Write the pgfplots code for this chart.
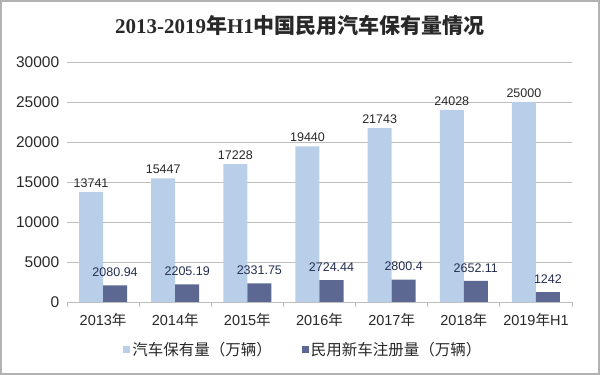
\documentclass[border=0pt]{standalone}
\usepackage{pgfplots}
\pgfplotsset{compat=1.18}
\usepackage{fontspec}
\setmainfont{Liberation Sans}
\newfontfamily\cjk{Noto Sans CJK SC}
\newfontfamily\titlelatin{Liberation Serif}
\definecolor{lightbar}{RGB}{184,206,233}
\definecolor{darkbar}{RGB}{92,104,145}
\definecolor{gridc}{RGB}{190,190,190}
\definecolor{txt}{RGB}{40,40,40}
\definecolor{navy}{RGB}{35,45,80}
\begin{document}
\begin{tikzpicture}[x=1pt,y=1pt]
\path[use as bounding box] (0,0) rectangle (600,375);
\draw[gray!60, line width=1.5pt] (1,1) rectangle (599,374);
\node[txt] at (300,350) {\fontsize{21}{24}\selectfont\bfseries\titlelatin 2013-2019{\cjk 年}H1{\cjk 中国民用汽车保有量情况}};
\begin{axis}[
  at={(67pt,73pt)}, anchor=south west,
  scale only axis, width=505pt, height=240pt,
  ymin=0, ymax=30000, xmin=-0.5, xmax=6.5,
  ybar=0pt, bar width=24pt,
  ytick={0,5000,...,30000},
  scaled y ticks=false,
  yticklabel style={/pgf/number format/1000 sep={}, font=\fontsize{15.5}{17}\selectfont, text=txt},
  /pgf/number format/assume math mode=true,
  ymajorgrids, major grid style={gridc, line width=0.9pt},
  axis lines*=left,
  y axis line style={draw=none},
  ytick style={draw=none},
  x axis line style={gridc, line width=0.9pt},
  xtick={0,...,6},
  xticklabels={2013{\cjk 年},2014{\cjk 年},2015{\cjk 年},2016{\cjk 年},2017{\cjk 年},2018{\cjk 年},2019{\cjk 年}H1},
  xticklabel style={font=\fontsize{14.5}{16}\selectfont, text=txt, yshift=-3pt},
  major x tick style={draw=none},
  minor xtick={-0.5,0.5,...,6.5},
  minor x tick style={gridc, line width=0.9pt},
  minor tick length=5pt,
  tick align=outside,
  legend style={at={(0.468,-0.2)}, anchor=center, draw=none, fill=none,
    legend columns=2, font=\fontsize{15.5}{17}\selectfont\cjk, text=txt,
    /tikz/every even column/.append style={column sep=28pt}},
  legend image code/.code={\fill[#1] (0pt,-3.5pt) rectangle (7pt,3.5pt);},
  clip=false,
]
\addplot[fill=lightbar, draw=none,
  nodes near coords, point meta=explicit symbolic,
  every node near coord/.append style={font=\fontsize{12.5}{14}\selectfont, text=txt, yshift=1pt}]
  table[meta=label] {
x y label
0 13741 13741
1 15447 15447
2 17228 17228
3 19440 19440
4 21743 21743
5 24028 24028
6 25000 25000
};
\addlegendentry{汽车保有量（万辆）}
\addplot[fill=darkbar, draw=none,
  nodes near coords, point meta=explicit symbolic,
  every node near coord/.append style={font=\fontsize{12.5}{14}\selectfont, text=navy, yshift=5pt}]
  table[meta=label] {
x y label
0 2080.94 2080.94
1 2205.19 2205.19
2 2331.75 2331.75
3 2724.44 2724.44
4 2800.4 2800.4
5 2652.11 2652.11
6 1242 1242
};
\addlegendentry{民用新车注册量（万辆）}
\end{axis}
\end{tikzpicture}
\end{document}
